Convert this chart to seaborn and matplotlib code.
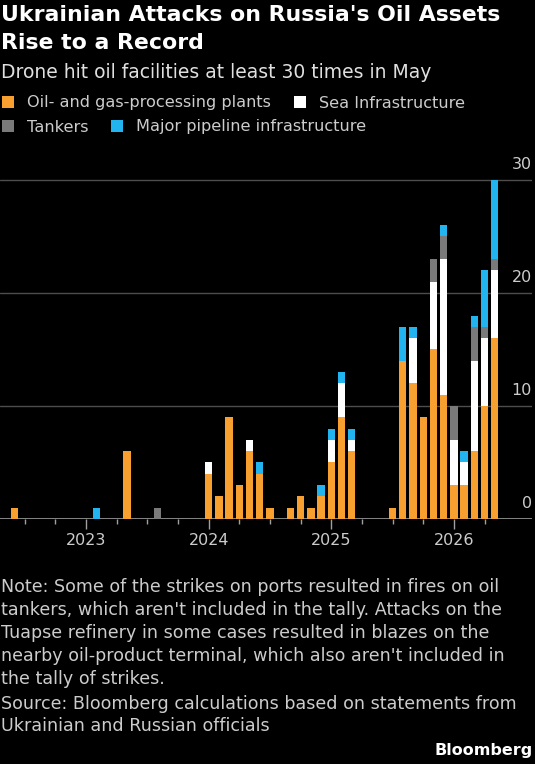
import pandas as pd
import matplotlib.pyplot as plt
import matplotlib.transforms as mtrans
import seaborn as sns
from matplotlib.patches import Patch

# monthly strike counts, Jun 2022 .. May 2026
months = pd.date_range("2022-06-01", "2026-05-01", freq="MS")
oil_plants = [1, 0, 0, 0, 0, 0, 0, 0, 0, 0, 0, 6,
              0, 0, 0, 0, 0, 0, 0, 4, 2, 9, 3, 6,
              4, 1, 0, 1, 2, 1, 2, 5, 9, 6, 0, 0,
              0, 1, 14, 12, 9, 15, 11, 3, 3, 6, 10, 16]
sea_infra = [0, 0, 0, 0, 0, 0, 0, 0, 0, 0, 0, 0,
             0, 0, 0, 0, 0, 0, 0, 1, 0, 0, 0, 1,
             0, 0, 0, 0, 0, 0, 0, 2, 3, 1, 0, 0,
             0, 0, 0, 4, 0, 6, 12, 4, 2, 8, 6, 6]
tankers = [0, 0, 0, 0, 0, 0, 0, 0, 0, 0, 0, 0,
           0, 0, 1, 0, 0, 0, 0, 0, 0, 0, 0, 0,
           0, 0, 0, 0, 0, 0, 0, 0, 0, 0, 0, 0,
           0, 0, 0, 0, 0, 2, 2, 3, 0, 3, 1, 1]
pipelines = [0, 0, 0, 0, 0, 0, 0, 0, 1, 0, 0, 0,
             0, 0, 0, 0, 0, 0, 0, 0, 0, 0, 0, 0,
             1, 0, 0, 0, 0, 0, 1, 1, 1, 1, 0, 0,
             0, 0, 3, 1, 0, 0, 1, 0, 1, 1, 5, 7]

series_names = ["Oil- and gas-processing plants", "Sea Infrastructure",
                "Tankers", "Major pipeline infrastructure"]
colors = ["#F7A030", "#FFFFFF", "#7A7A7A", "#21B4EE"]

df = pd.DataFrame({"month": months.strftime("%Y-%m"),
                   "oil": oil_plants, "sea": sea_infra,
                   "tank": tankers, "pipe": pipelines})
df["c1"] = df["oil"]
df["c2"] = df["c1"] + df["sea"]
df["c3"] = df["c2"] + df["tank"]
df["c4"] = df["c3"] + df["pipe"]
order = list(df["month"])

sns.set_theme(style="dark")
plt.rcParams["font.family"] = ["DejaVu Sans"]

fig = plt.figure(figsize=(5.35, 7.64), dpi=100, facecolor="black")
ax = fig.add_axes([0, 1 - 519 / 764, 532 / 535, (519 - 174.3) / 764])
ax.set_facecolor("black")

# stacked bars drawn back to front as cumulative totals
for col, c in zip(["c4", "c3", "c2", "c1"], colors[::-1]):
    sns.barplot(data=df, x="month", y=col, order=order, color=c,
                saturation=1, width=0.72, linewidth=0, errorbar=None, ax=ax)

ax.set_xlim(7 - 86 / 10.22, 7 + 446 / 10.22)
ax.set_ylim(0, 30.5)
ax.set_xlabel("")
ax.set_ylabel("")
for s in ax.spines.values():
    s.set_visible(False)

# y axis: labels on right, above gridlines
ax.set_yticks([0, 10, 20, 30])
ax.yaxis.tick_right()
ax.yaxis.grid(True, color="#4d4d4d", lw=1)
ax.xaxis.grid(False)
ax.tick_params(axis="y", length=0, pad=0, labelcolor="#cccccc", labelsize=11.5)
lift = mtrans.ScaledTranslation(0, 6 / 72, fig.dpi_scale_trans)
for lab in ax.get_yticklabels():
    lab.set_horizontalalignment("right")
    lab.set_verticalalignment("bottom")
    lab.set_transform(lab.get_transform() + lift)
ax.axhline(0, color="#a0a0a0", lw=1.3, zorder=0.5)

# x axis: year labels, quarterly minor ticks
pos = {m: i for i, m in enumerate(order)}
year_pos = [pos[m] for m in order if m.endswith("-01")]
year_lab = [m[:4] for m in order if m.endswith("-01")]
qtr_pos = [pos[m] for m in order if m[5:] in ("04", "07", "10")]
ax.set_xticks(year_pos, year_lab)
ax.set_xticks(qtr_pos, minor=True)
ax.tick_params(axis="x", which="major", length=7, width=1, color="#a0a0a0",
               labelcolor="#cccccc", labelsize=11.5, pad=3, bottom=True)
ax.tick_params(axis="x", which="minor", length=3.5, width=1, color="#a0a0a0",
               bottom=True)

# titles
fig.text(0.002, 1 - 15 / 764, "Ukrainian Attacks on Russia's Oil Assets",
         color="white", fontsize=15.8, fontweight="bold", va="center")
fig.text(0.002, 1 - 43 / 764, "Rise to a Record",
         color="white", fontsize=15.8, fontweight="bold", va="center")
fig.text(0.002, 1 - 72 / 764, "Drone hit oil facilities at least 30 times in May",
         color="#e0e0e0", fontsize=13.5, va="center")

# legend rows
handles = [Patch(facecolor=c, edgecolor="none", label=n)
           for c, n in zip(colors, series_names)]
for row, y in zip([[0, 1], [2, 3]], [103, 127]):
    fig.legend(handles=[handles[i] for i in row], loc="center left",
               bbox_to_anchor=(0.004, 1 - y / 764), ncol=2, frameon=False,
               fontsize=11.6, labelcolor="#cccccc", handlelength=0.75,
               handleheight=0.75, handletextpad=0.8, columnspacing=1.4,
               borderpad=0, borderaxespad=0)

note = ("Note: Some of the strikes on ports resulted in fires on oil\n"
        "tankers, which aren't included in the tally. Attacks on the\n"
        "Tuapse refinery in some cases resulted in blazes on the\n"
        "nearby oil-product terminal, which also aren't included in\n"
        "the tally of strikes.")
fig.text(0.002, 1 - 578 / 764, note, color="#cccccc", fontsize=12.6,
         va="top", linespacing=1.36)
source = ("Source: Bloomberg calculations based on statements from\n"
          "Ukrainian and Russian officials")
fig.text(0.002, 1 - 695 / 764, source, color="#cccccc", fontsize=12.6,
         va="top", linespacing=1.32)
fig.text(0.996, 1 - 750 / 764, "Bloomberg", color="white", fontsize=11.5,
         fontweight="bold", ha="right", va="center")

fig.savefig("out.png", dpi=100, facecolor="black")
